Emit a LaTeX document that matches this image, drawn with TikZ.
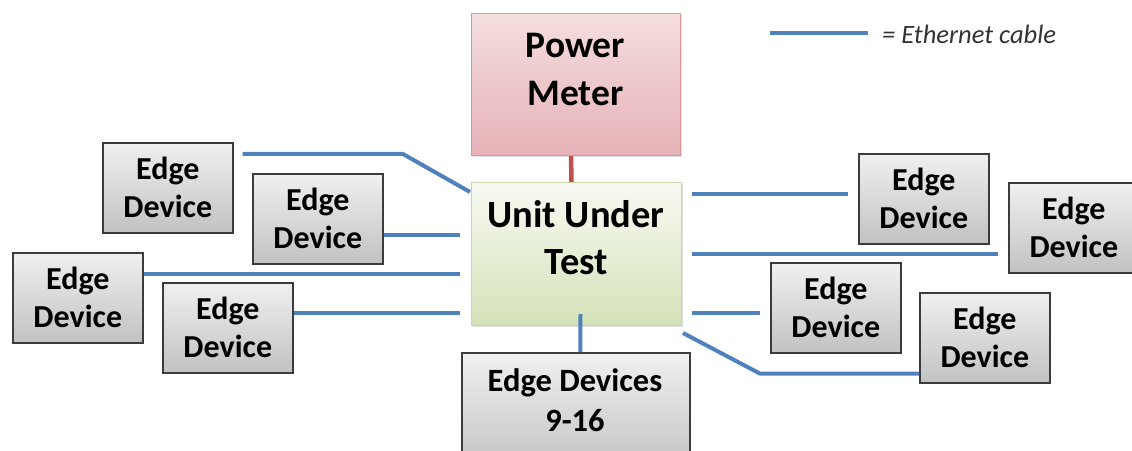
\documentclass[tikz,border=0pt]{standalone}
\usepackage{fontspec}
\setmainfont{Carlito}
\usetikzlibrary{calc,shadows}

\definecolor{cableblue}{HTML}{4F81BD}
\definecolor{powerred}{HTML}{C0504D}
\definecolor{boxedge}{HTML}{3C3C3C}

\tikzset{
  devbox/.style={draw=boxedge, line width=1.6pt, rectangle, anchor=north west,
    top color=white!94!black, bottom color=white!76!black,
    drop shadow={shadow xshift=1.5pt, shadow yshift=-1.5pt, opacity=0.35},
    minimum width=130pt, minimum height=90pt, inner sep=0pt,
    align=center, font=\bfseries\fontsize{32}{38}\selectfont},
  pmbox/.style={draw=red!30!white!85!black, line width=1pt, rectangle, anchor=north west,
    top color={rgb,255:red,244;green,222;blue,222}, bottom color={rgb,255:red,230;green,178;blue,184},
    drop shadow={shadow xshift=1.5pt, shadow yshift=-1.5pt, opacity=0.25},
    minimum width=209pt, minimum height=142pt, inner sep=0pt},
  uutbox/.style={draw={rgb,255:red,200;green,214;blue,170}, line width=1pt, rectangle, anchor=north west,
    top color={rgb,255:red,248;green,250;blue,242}, bottom color={rgb,255:red,212;green,226;blue,184},
    drop shadow={shadow xshift=1.5pt, shadow yshift=-1.5pt, opacity=0.25},
    minimum width=210pt, minimum height=143pt, inner sep=0pt},
  bigtext/.style={align=center, inner sep=0pt},
  cable/.style={draw=cableblue, line width=4pt},
  powerline/.style={draw=powerred, line width=4.5pt},
}

\begin{document}
\begin{tikzpicture}[x=1pt, y=-1pt]
\useasboundingbox (0,0) rectangle (1132,450);

% central units
\node[pmbox] (pm) at (471,13) {};
\node[bigtext, font=\bfseries\fontsize{37.5}{48}\selectfont] (pmlabel) at (575.5,69) {Power\\Meter};
\node[uutbox] (uut) at (471,182) {};
\node[bigtext, font=\bfseries\fontsize{38.5}{47}\selectfont] (uutlabel) at (576,238) {Unit Under\\Test};

% edge devices on the left
\node[devbox] (L1) at (102,142) {Edge\\Device};
\node[devbox] (L2) at (252,173) {Edge\\Device};
\node[devbox] (L3) at (12,252) {Edge\\Device};
\node[devbox] (L4) at (162,282) {Edge\\Device};

% edge devices on the right
\node[devbox] (R1) at (858,153) {Edge\\Device};
\node[devbox] (R2) at (1008,182) {Edge\\Device};
\node[devbox] (R3) at (770,262) {Edge\\Device};
\node[devbox] (R4) at (919,292) {Edge\\Device};

% the second group of devices below
\node[devbox, minimum width=228pt, minimum height=120pt] (E916) at (461,352) {};
\node[bigtext, font=\bfseries\fontsize{32.5}{40}\selectfont] (E916label) at (575,400) {Edge Devices\\9-16};

% power meter link
\draw[powerline] ($(pm.south)+(-5,0)$) -- ($(uut.north)+(-5,0)$);

% ethernet cables, left side
\draw[cable] ($(L1.east)+(9,-34)$) -- ++(160,0) -- ($(uut.north west)+(-1,10)$);
\draw[cable] ($(L2.east)+(0,16)$) coordinate (l2a) -- ([xshift=-11pt]uut.west |- l2a);
\draw[cable] ($(L3.east)+(0,-24)$) coordinate (l3a) -- ([xshift=-11pt]uut.west |- l3a);
\draw[cable] ($(L4.east)+(0,-15)$) coordinate (l4a) -- ([xshift=-11pt]uut.west |- l4a);

% ethernet cables, right side
\draw[cable] ($(uut.east)+(10,-60)$) coordinate (r1a) -- ([xshift=-10pt]R1.west |- r1a);
\draw[cable] ($(uut.east)+(10,0)$) coordinate (r2a) -- ([xshift=-10pt]R2.west |- r2a);
\draw[cable] ($(uut.east)+(10,59)$) coordinate (r3a) -- ([xshift=-10pt]R3.west |- r3a);
\draw[cable] ($(uut.south east)+(1,7)$) -- ($(R4.south west)+(-159,-10)$) -- ($(R4.south west)+(0,-10)$);

% cable to the lower group
\draw[cable] ($(uut.south)+(4,-12)$) -- ($(E916.north)+(4.5,0)$);

% legend
\coordinate (lgA) at (770,33);
\coordinate (lgB) at (868,33);
\draw[cable] (lgA) -- (lgB);
\node[anchor=base west, inner sep=0pt, font=\itshape\fontsize{26.5}{30}\selectfont, text=black!80] (lgtext) at (882,43) {= Ethernet cable};
\end{tikzpicture}
\end{document}
